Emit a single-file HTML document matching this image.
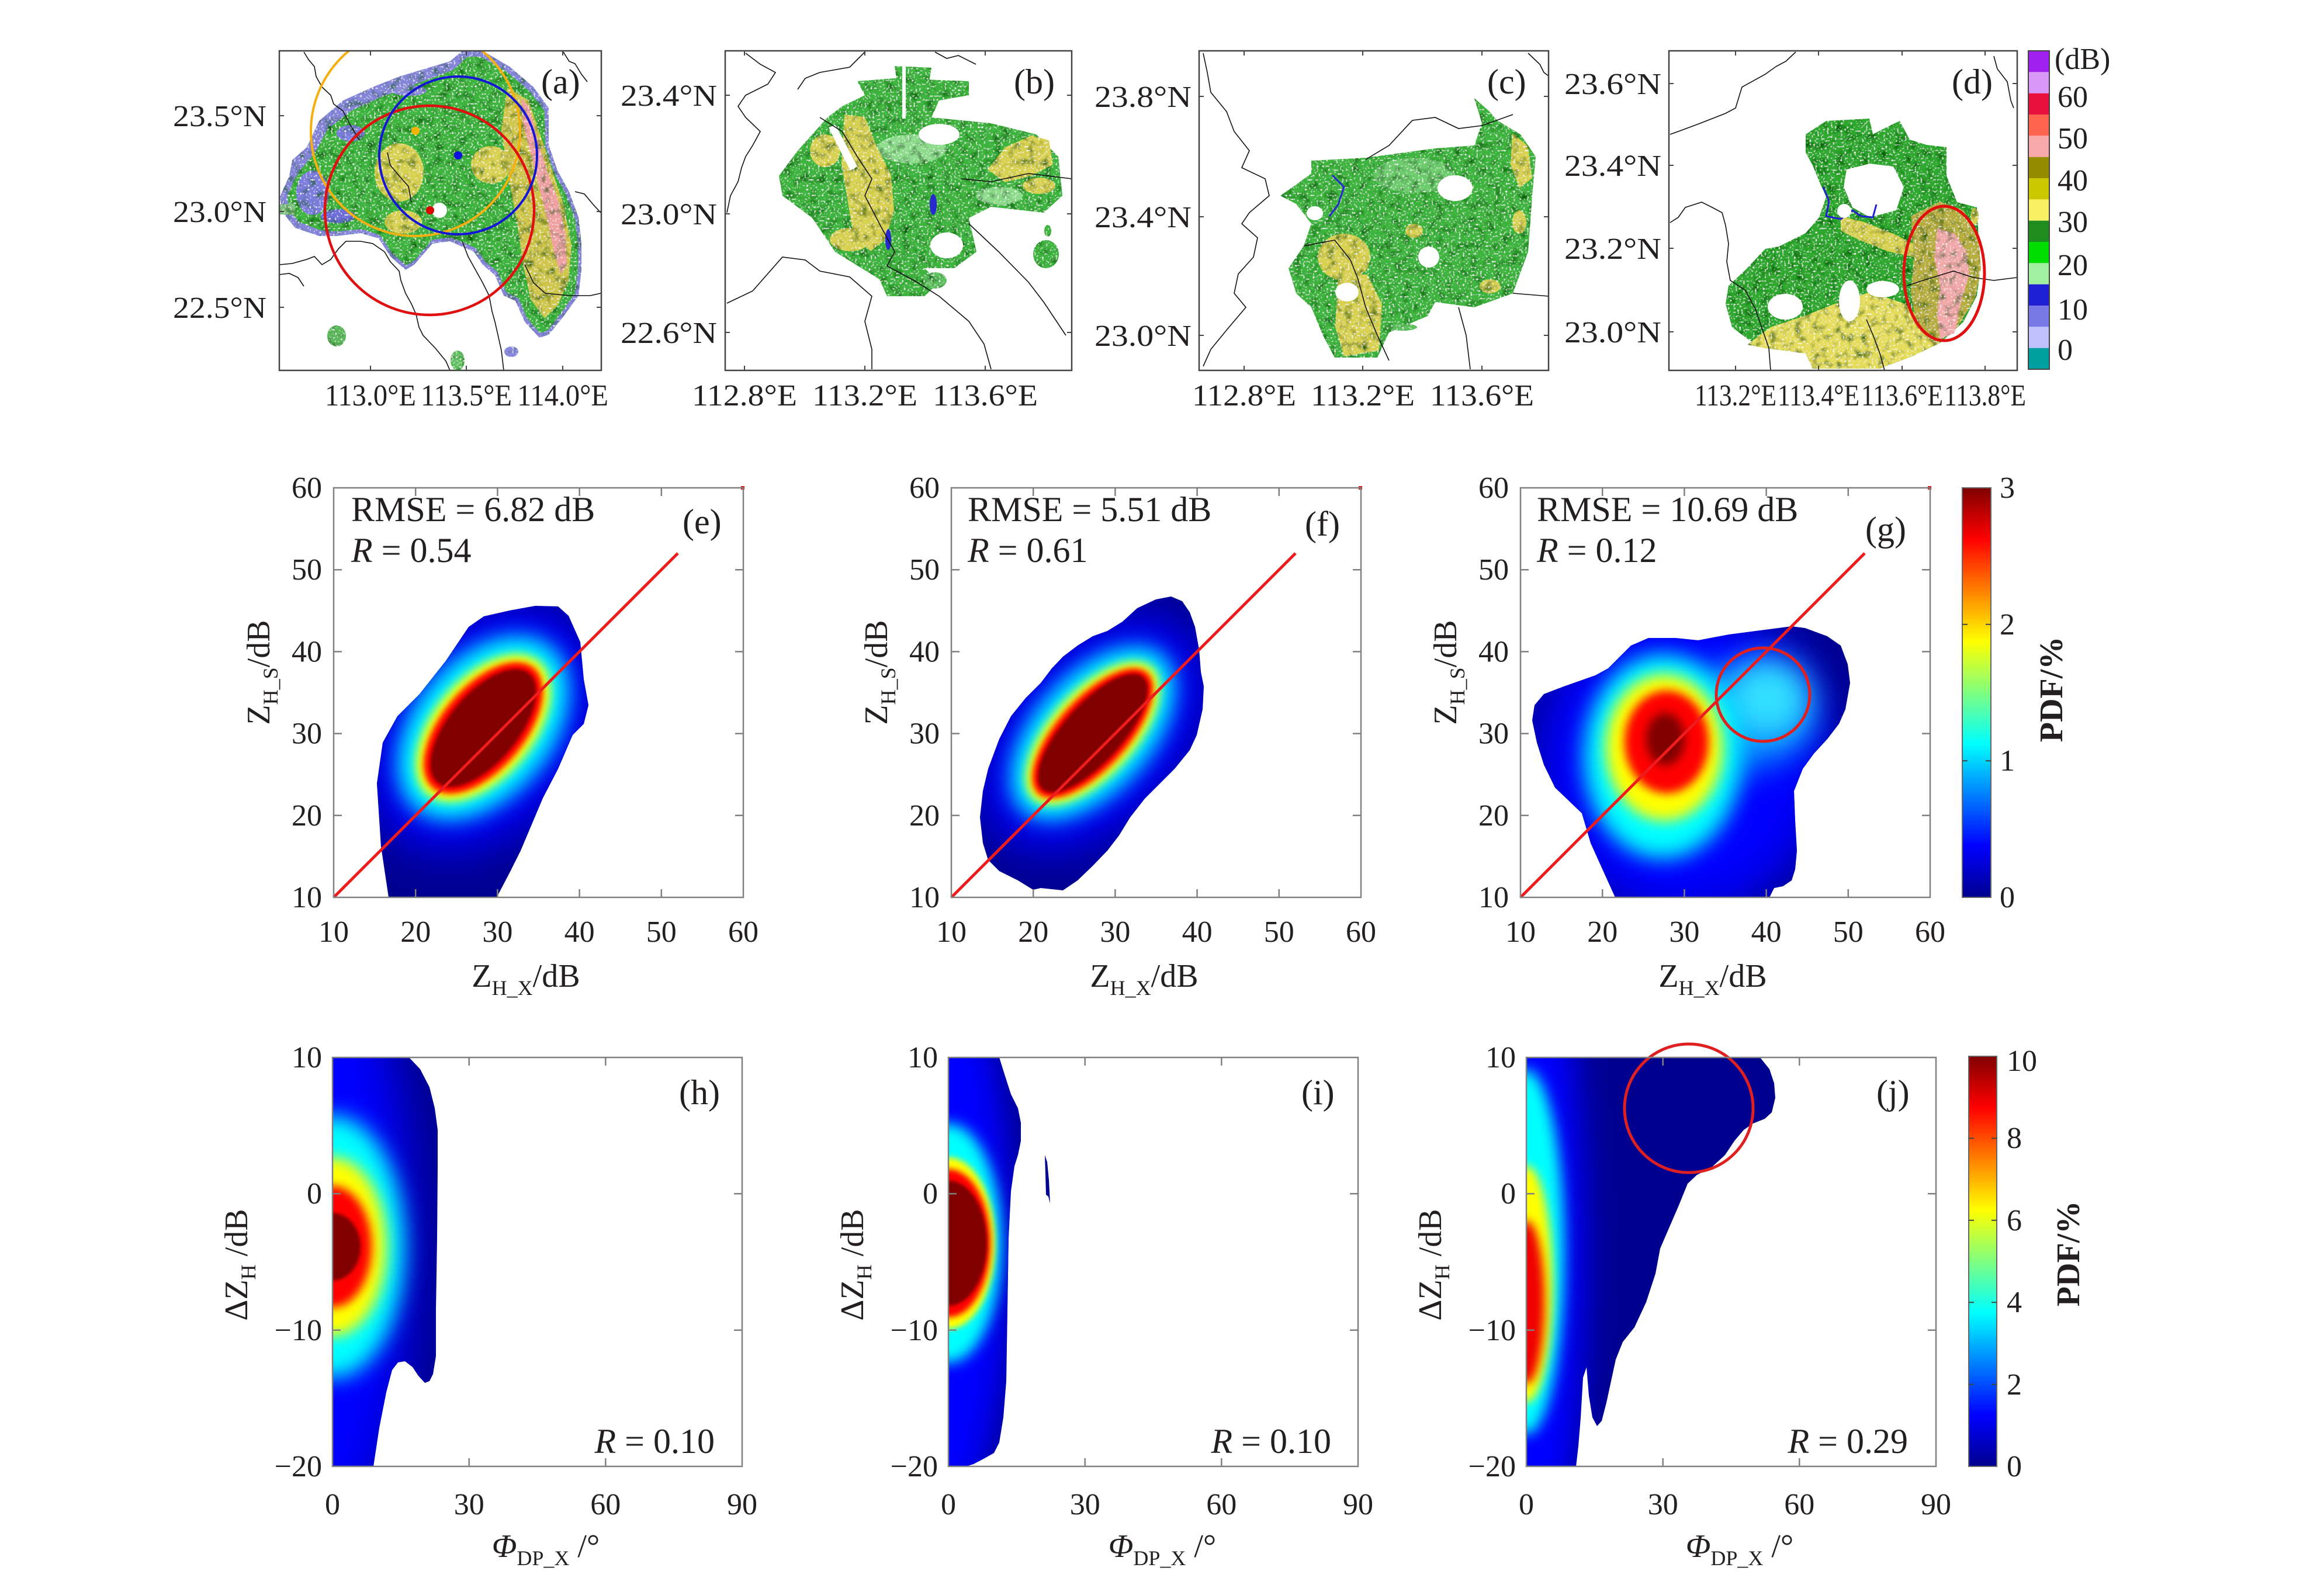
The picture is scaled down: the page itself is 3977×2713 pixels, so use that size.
<!DOCTYPE html>
<html><head><meta charset="utf-8"><style>html,body{margin:0;padding:0;background:#fff}svg{display:block}</style></head>
<body>
<svg xmlns="http://www.w3.org/2000/svg" width="3977" height="2713" viewBox="0 0 3977 2713" font-family="'Liberation Serif', serif" fill="#231f20">
<defs>
<linearGradient id="jet" x1="0" y1="1" x2="0" y2="0">
<stop offset="0" stop-color="#00008F"/><stop offset="0.125" stop-color="#0000FF"/><stop offset="0.375" stop-color="#00FFFF"/><stop offset="0.625" stop-color="#FFFF00"/><stop offset="0.875" stop-color="#FF0000"/><stop offset="1" stop-color="#800000"/>
</linearGradient>
<filter id="b3" x="-50%" y="-50%" width="200%" height="200%"><feGaussianBlur stdDeviation="3"/></filter>
<filter id="b5" x="-50%" y="-50%" width="200%" height="200%"><feGaussianBlur stdDeviation="5"/></filter>
<filter id="b8" x="-50%" y="-50%" width="200%" height="200%"><feGaussianBlur stdDeviation="8"/></filter>
<filter id="b12" x="-50%" y="-50%" width="200%" height="200%"><feGaussianBlur stdDeviation="12"/></filter>
<filter id="b18" x="-50%" y="-50%" width="200%" height="200%"><feGaussianBlur stdDeviation="18"/></filter>
<filter id="b28" x="-50%" y="-50%" width="200%" height="200%"><feGaussianBlur stdDeviation="28"/></filter>
<filter id="b40" x="-50%" y="-50%" width="200%" height="200%"><feGaussianBlur stdDeviation="40"/></filter>
<filter id="spk" x="0" y="0" width="100%" height="100%">
<feTurbulence type="fractalNoise" baseFrequency="0.3" numOctaves="1" seed="7" result="n"/>
<feColorMatrix in="n" type="matrix" values="0 0 0 0 1  0 0 0 0 1  0 0 0 0 1  0 0 0 -4 1.72" result="w"/>
<feComposite in="w" in2="SourceAlpha" operator="in" result="ws"/>
<feTurbulence type="fractalNoise" baseFrequency="0.07" numOctaves="2" seed="3" result="m"/>
<feColorMatrix in="m" type="matrix" values="0 0 0 0 0  0 0 0 0 0.12  0 0 0 0 0  0 0 0 2.5 -1.2" result="d"/>
<feComposite in="d" in2="SourceAlpha" operator="in" result="ds"/>
<feMerge><feMergeNode in="SourceGraphic"/><feMergeNode in="ds"/><feMergeNode in="ws"/></feMerge>
</filter>
<clipPath id="ca"><rect x="478" y="87" width="551" height="547"/></clipPath>
<clipPath id="cb"><rect x="1241" y="87" width="593" height="547"/></clipPath>
<clipPath id="cc"><rect x="2052" y="87" width="598" height="547"/></clipPath>
<clipPath id="cd"><rect x="2856" y="87" width="596" height="547"/></clipPath>
<clipPath id="ce"><polygon points="665,1536 652,1449 645,1341 655,1271 680,1226 718,1188 763,1131 802,1073 828,1055 872,1045 916,1037 955,1038 973,1054 993,1099 999,1163 1007,1207 999,1239 980,1258 955,1316 929,1366 891,1456 872,1494 850,1536"/></clipPath>
<clipPath id="cf"><polygon points="1819,1524 1781,1520 1768,1523 1742,1507 1710,1491 1691,1472 1682,1443 1677,1399 1682,1354 1691,1316 1710,1265 1730,1226 1755,1195 1781,1169 1800,1144 1819,1124 1844,1105 1870,1089 1895,1080 1921,1064 1946,1041 1978,1026 2004,1021 2023,1029 2036,1048 2045,1073 2052,1112 2055,1150 2060,1175 2058,1214 2048,1258 2036,1284 2010,1316 1985,1341 1959,1367 1934,1399 1915,1430 1895,1456 1870,1482 1844,1507"/></clipPath>
<clipPath id="cg"><polygon points="2764,1536 2745,1494 2722,1443 2707,1392 2684,1370 2661,1348 2642,1309 2630,1271 2622,1233 2626,1207 2642,1188 2676,1175 2730,1156 2752,1144 2791,1105 2821,1092 2867,1092 2906,1096 2959,1086 3020,1078 3066,1072 3089,1075 3127,1089 3150,1105 3162,1137 3166,1169 3158,1214 3147,1239 3127,1265 3104,1290 3085,1316 3070,1354 3072,1405 3075,1456 3072,1488 3066,1507 3051,1517 3036,1520 3028,1536"/></clipPath>
<clipPath id="ch"><polygon points="569,1810 700,1810 719,1830 735,1861 744,1897 749,1934 749,1996 748,2119 746,2241 746,2321 741,2352 735,2364 727,2367 716,2355 706,2340 693,2330 681,2332 671,2345 661,2383 649,2444 639,2510 569,2510"/></clipPath>
<clipPath id="ci"><polygon points="1623,1810 1710,1810 1720,1842 1730,1873 1742,1897 1747,1922 1747,1953 1742,1977 1736,1996 1730,2039 1726,2119 1724,2241 1722,2364 1717,2426 1710,2469 1701,2487 1685,2496 1666,2506 1653,2510 1623,2510"/><polygon points="1788,1977 1792,1989 1795,2020 1797,2060 1794,2048 1790,2045 1789,2008"/></clipPath>
<clipPath id="cj"><polygon points="2612,1810 3012,1810 3028,1830 3036,1854 3038,1879 3032,1904 3020,1915 3000,1923 2984,1934 2968,1953 2952,1977 2928,1999 2904,2011 2888,2026 2873,2063 2857,2100 2841,2137 2833,2180 2817,2229 2797,2272 2777,2297 2765,2327 2757,2364 2749,2401 2741,2432 2733,2441 2725,2426 2719,2389 2715,2340 2709,2358 2705,2426 2701,2475 2697,2510 2612,2510"/></clipPath>
</defs>
<rect width="3977" height="2713" fill="#fff"/>

<!-- ============ ROW 1 ============ -->
<!-- (a) -->
<g clip-path="url(#ca)">
 <g filter="url(#spk)">
  <polygon points="500,274 525,252 546,207 587,172 638,149 683,131 770,105 791,87 826,87 872,114 913,149 939,185 939,248 954,292 974,328 990,372 995,417 995,462 990,506 964,542 939,573 923,578 898,551 882,515 862,506 847,471 826,453 811,431 770,413 740,417 709,453 694,462 668,439 648,408 617,399 576,404 546,404 505,390 484,364 479,337 495,301" fill="#8484D8"/>
  <polygon points="515,290 540,260 560,222 600,190 648,168 695,150 775,120 800,97 822,97 866,122 905,155 932,190 933,250 948,295 968,332 984,374 989,418 989,462 984,502 960,536 938,565 924,570 902,545 887,510 866,500 852,466 830,447 815,425 772,406 740,410 710,445 695,454 670,432 650,402 618,392 578,396 548,394 512,380 495,360 492,335 505,305" fill="#3CB43C"/>
  <ellipse cx="535" cy="330" rx="28" ry="38" fill="#7C7CDC"/>
  <ellipse cx="600" cy="228" rx="24" ry="14" fill="#7C7CDC"/>
  <ellipse cx="700" cy="155" rx="30" ry="9" fill="#8C8CDC"/>
  <ellipse cx="578" cy="370" rx="30" ry="12" fill="#6C6CD8"/>
  <ellipse cx="683" cy="295" rx="42" ry="50" fill="#D8D050"/>
  <ellipse cx="840" cy="282" rx="34" ry="32" fill="#D8D050"/>
  <ellipse cx="690" cy="380" rx="32" ry="20" fill="#D8D050"/>
  <polygon points="868,150 905,172 925,232 945,292 965,352 978,420 973,480 955,522 932,545 908,512 895,452 885,382 870,302 858,222" fill="#CFC64A"/>
  <polygon points="892,168 906,184 921,242 936,292 955,342 968,402 970,452 960,470 948,432 938,382 923,322 908,262 895,212" fill="#EFA0A0"/>
  <polygon points="478,350 505,348 505,368 478,367" fill="#7CC07C"/>
  <ellipse cx="576" cy="575" rx="16" ry="18" fill="#5CB85C"/>
  <ellipse cx="783" cy="617" rx="12" ry="17" fill="#60C060"/>
  <ellipse cx="875" cy="602" rx="12" ry="9" fill="#8888DD"/>
 </g>
 <circle cx="752" cy="360" r="13" fill="#fff"/>
 <g fill="none" stroke="#111" stroke-width="1.6">
  <polyline points="479,453 500,451 525,444 538,439 551,453 566,444 579,426 592,413 617,413 638,417 658,431 668,448 683,464 686,480 694,502 704,520 712,538 717,560 724,574 745,596 763,618 770,634"/>
  <polyline points="791,413 801,439 816,466 826,484 837,506 842,533 847,551 852,573 858,600 862,634"/>
  <polyline points="898,453 913,484 933,502 974,506 1010,506 1028,502"/>
  <polyline points="520,89 528,102 538,114 541,131 551,149 566,163 571,178 587,190 600,215 615,240"/>
  <polyline points="964,89 974,105 984,109 995,127 1005,140"/>
  <polyline points="984,328 1000,332 1015,350 1028,364"/>
  <polyline points="663,261 668,283 683,301 699,319 704,346"/>
  <polyline points="478,470 495,468 510,475 520,490"/>
 </g>
 <circle cx="711" cy="225" r="179" fill="none" stroke="#F5B010" stroke-width="4"/>
 <circle cx="735" cy="360" r="179" fill="none" stroke="#E01010" stroke-width="4.5"/>
 <circle cx="784" cy="266" r="135" fill="none" stroke="#1515D5" stroke-width="4"/>
 <circle cx="711" cy="224" r="7" fill="#F5B400"/>
 <circle cx="784" cy="266" r="7" fill="#1010E0"/>
 <circle cx="736" cy="360" r="7" fill="#E00000"/>
</g>
<rect x="478" y="87" width="551" height="547" fill="none" stroke="#444" stroke-width="2.5"/>
<path d="M634 87v8M798 87v8M963 87v8M634 634v-8M798 634v-8M963 634v-8M478 198h8M478 362h8M478 526h8M1029 198h-8M1029 362h-8M1029 526h-8" stroke="#444" stroke-width="2"/>
<text x="926" y="160" font-size="60">(a)</text>
<g font-size="52">
<text x="634" y="694" text-anchor="middle" textLength="156" lengthAdjust="spacingAndGlyphs">113.0°E</text>
<text x="798" y="694" text-anchor="middle" textLength="156" lengthAdjust="spacingAndGlyphs">113.5°E</text>
<text x="963" y="694" text-anchor="middle" textLength="156" lengthAdjust="spacingAndGlyphs">114.0°E</text>
<text x="456" y="216" text-anchor="end" textLength="160" lengthAdjust="spacingAndGlyphs">23.5°N</text>
<text x="456" y="380" text-anchor="end" textLength="160" lengthAdjust="spacingAndGlyphs">23.0°N</text>
<text x="456" y="544" text-anchor="end" textLength="160" lengthAdjust="spacingAndGlyphs">22.5°N</text>
</g>

<!-- (b) -->
<g clip-path="url(#cb)">
 <g filter="url(#spk)">
  <polygon points="1467,139 1531,134 1658,139 1658,163 1607,172 1594,201 1696,211 1773,230 1811,268 1818,335 1786,364 1696,354 1658,373 1671,431 1633,459 1582,459 1607,483 1582,507 1518,507 1505,478 1429,431 1390,373 1339,335 1333,301 1365,258 1390,230 1416,201 1441,182 1480,163" fill="#3CB43C"/>
  <polygon points="1531,113 1594,116 1590,140 1550,145 1535,140" fill="#3CB43C"/>
  <ellipse cx="1560" cy="255" rx="60" ry="25" fill="#8CDC8C"/>
  <ellipse cx="1710" cy="335" rx="40" ry="15" fill="#8CDC8C"/>
  <ellipse cx="1412" cy="258" rx="26" ry="28" fill="#D8D050"/>
  <polygon points="1445,196 1480,200 1500,250 1525,300 1530,360 1515,410 1490,430 1460,400 1450,340 1440,280" fill="#D8D050"/>
  <polygon points="1690,290 1720,252 1765,232 1795,240 1802,282 1762,302 1720,312" fill="#D8D050"/>
  <ellipse cx="1455" cy="410" rx="35" ry="20" fill="#D8D050"/>
  <ellipse cx="1778" cy="318" rx="28" ry="14" fill="#D8D050"/>
  <ellipse cx="1790" cy="435" rx="22" ry="24" fill="#3CB43C"/>
  <ellipse cx="1793" cy="395" rx="6" ry="10" fill="#3CB43C"/>
  <ellipse cx="1600" cy="480" rx="20" ry="14" fill="#5CC05C"/>
 </g>
 <rect x="1544" y="113" width="6" height="90" fill="#fff"/>
 <ellipse cx="1607" cy="230" rx="35" ry="18" fill="#fff"/>
 <polygon points="1418,218 1430,214 1467,285 1455,292" fill="#fff"/>
 <ellipse cx="1620" cy="420" rx="28" ry="22" fill="#fff"/>
 <ellipse cx="1597" cy="350" rx="6" ry="18" fill="#2828D0"/>
 <ellipse cx="1520" cy="410" rx="5" ry="18" fill="#2828D0"/>
 <g fill="none" stroke="#111" stroke-width="1.6">
  <polyline points="1276,91 1301,110 1327,124 1314,144 1276,163 1263,182 1276,201 1301,225 1288,249 1276,268 1269,287 1263,311 1250,335 1244,364"/>
  <polyline points="1480,89 1454,115 1403,124 1378,134 1365,153"/>
  <polyline points="1403,201 1441,225 1467,268 1492,306 1480,335 1505,383 1531,431 1518,455 1569,483 1607,507 1658,550 1684,589 1696,632"/>
  <polyline points="1244,519 1288,498 1339,440 1378,445 1403,464 1454,474 1492,507 1480,550 1492,598 1492,632"/>
  <polyline points="1645,306 1696,311 1760,297 1834,306"/>
  <polyline points="1658,383 1709,431 1760,483 1786,517 1824,574"/>
  <polyline points="1600,89 1620,100 1640,95 1670,110"/>
 </g>
</g>
<rect x="1241" y="87" width="593" height="547" fill="none" stroke="#444" stroke-width="2.5"/>
<path d="M1274 87v8M1480 87v8M1686 87v8M1274 634v-8M1480 634v-8M1686 634v-8M1241 163h8M1241 366h8M1241 569h8M1834 163h-8M1834 366h-8M1834 569h-8" stroke="#444" stroke-width="2"/>
<text x="1735" y="160" font-size="60">(b)</text>
<g font-size="52">
<text x="1274" y="694" text-anchor="middle" textLength="180" lengthAdjust="spacingAndGlyphs">112.8°E</text>
<text x="1480" y="694" text-anchor="middle" textLength="180" lengthAdjust="spacingAndGlyphs">113.2°E</text>
<text x="1686" y="694" text-anchor="middle" textLength="180" lengthAdjust="spacingAndGlyphs">113.6°E</text>
<text x="1227" y="181" text-anchor="end" textLength="165" lengthAdjust="spacingAndGlyphs">23.4°N</text>
<text x="1227" y="384" text-anchor="end" textLength="165" lengthAdjust="spacingAndGlyphs">23.0°N</text>
<text x="1227" y="587" text-anchor="end" textLength="165" lengthAdjust="spacingAndGlyphs">22.6°N</text>
</g>

<!-- (c) -->
<g clip-path="url(#cc)">
 <g filter="url(#spk)">
  <polygon points="2244,275 2337,270 2456,254 2523,249 2536,211 2523,168 2549,191 2562,206 2602,230 2628,268 2622,335 2615,431 2589,502 2523,526 2456,517 2443,541 2377,569 2357,612 2284,612 2264,574 2244,526 2218,502 2205,459 2231,421 2244,383 2218,349 2191,335 2218,316 2244,297" fill="#3CB43C"/>
  <ellipse cx="2420" cy="300" rx="70" ry="30" fill="#6CCC6C"/>
  <polygon points="2588,228 2615,250 2622,305 2600,322 2585,282" fill="#D8D050"/>
  <ellipse cx="2300" cy="440" rx="45" ry="40" fill="#D8D050"/>
  <polygon points="2290,470 2340,470 2365,520 2360,600 2300,610 2285,560" fill="#D8D050"/>
  <ellipse cx="2550" cy="490" rx="18" ry="12" fill="#D8D050"/>
  <ellipse cx="2420" cy="395" rx="15" ry="12" fill="#D8D050"/>
  <ellipse cx="2600" cy="380" rx="12" ry="20" fill="#D8D050"/>
  <ellipse cx="2400" cy="560" rx="25" ry="6" fill="#5CC05C"/>
 </g>
 <ellipse cx="2490" cy="322" rx="30" ry="22" fill="#fff"/>
 <ellipse cx="2305" cy="500" rx="20" ry="16" fill="#fff"/>
 <ellipse cx="2445" cy="440" rx="18" ry="18" fill="#fff"/>
 <ellipse cx="2250" cy="365" rx="14" ry="12" fill="#fff"/>
 <polyline points="2280,300 2300,320 2290,350 2275,370" fill="none" stroke="#2828D0" stroke-width="3"/>
 <g fill="none" stroke="#111" stroke-width="1.6">
  <polyline points="2059,91 2066,124 2072,158 2099,191 2112,225 2138,258 2125,287 2165,306 2172,335 2138,364 2125,383 2152,407 2145,440 2119,469 2112,502 2132,526 2099,565 2072,598 2059,627"/>
  <polyline points="2337,273 2377,249 2417,206 2456,201 2496,220 2536,215 2589,196"/>
  <polyline points="2615,91 2635,110 2642,124 2650,130"/>
  <polyline points="2231,421 2284,411 2311,445 2324,478 2337,526 2357,574 2377,617"/>
  <polyline points="2496,526 2509,574 2516,632"/>
  <polyline points="2589,502 2650,507"/>
 </g>
</g>
<rect x="2052" y="87" width="598" height="547" fill="none" stroke="#444" stroke-width="2.5"/>
<path d="M2129 87v8M2332 87v8M2536 87v8M2129 634v-8M2332 634v-8M2536 634v-8M2052 165h8M2052 371h8M2052 574h8M2650 165h-8M2650 371h-8M2650 574h-8" stroke="#444" stroke-width="2"/>
<text x="2545" y="160" font-size="60">(c)</text>
<g font-size="52">
<text x="2129" y="694" text-anchor="middle" textLength="178" lengthAdjust="spacingAndGlyphs">112.8°E</text>
<text x="2332" y="694" text-anchor="middle" textLength="178" lengthAdjust="spacingAndGlyphs">113.2°E</text>
<text x="2536" y="694" text-anchor="middle" textLength="178" lengthAdjust="spacingAndGlyphs">113.6°E</text>
<text x="2039" y="183" text-anchor="end" textLength="166" lengthAdjust="spacingAndGlyphs">23.8°N</text>
<text x="2039" y="389" text-anchor="end" textLength="166" lengthAdjust="spacingAndGlyphs">23.4°N</text>
<text x="2039" y="592" text-anchor="end" textLength="166" lengthAdjust="spacingAndGlyphs">23.0°N</text>
</g>

<!-- (d) -->
<g clip-path="url(#cd)">
 <g filter="url(#spk)">
  <polygon points="3090,230 3125,207 3199,203 3205,230 3222,221 3251,207 3268,239 3297,248 3331,252 3331,301 3349,346 3383,355 3389,462 3383,506 3360,551 3320,587 3274,609 3217,631 3102,631 3090,605 3021,596 2993,582 2964,560 2953,520 2958,489 2987,462 3021,426 3044,422 3090,399 3113,372 3125,337 3113,310 3102,283 3090,261" fill="#2EA82E"/>
  <polygon points="2990,590 3030,560 3090,540 3140,520 3200,500 3260,520 3300,560 3320,587 3274,609 3217,631 3102,631 3090,605 3021,596" fill="#E4DC5A"/>
  <polygon points="3150,370 3190,380 3240,400 3280,420 3275,440 3230,430 3180,410 3150,395" fill="#D8D050"/>
  <polygon points="3270,370 3320,345 3360,360 3385,400 3390,460 3380,510 3350,560 3310,590 3280,560 3270,500 3275,440" fill="#B8AE40"/>
  <polygon points="3315,390 3345,400 3365,430 3370,470 3355,520 3345,570 3320,580 3315,540 3320,490 3310,440" fill="#F0A8A8"/>
  <ellipse cx="3379" cy="370" rx="7" ry="14" fill="#D8D050"/>
 </g>
 <polygon points="3160,290 3200,280 3240,285 3258,320 3245,360 3200,372 3170,355 3155,320" fill="#fff"/>
 <polyline points="3120,320 3130,345 3125,370 3150,375 3170,360 3185,370 3205,372 3211,350" fill="none" stroke="#2020D0" stroke-width="3"/>
 <circle cx="3156" cy="361" r="12" fill="#fff"/>
 <ellipse cx="3165" cy="515" rx="18" ry="35" fill="#fff"/>
 <ellipse cx="3222" cy="495" rx="28" ry="14" fill="#fff"/>
 <ellipse cx="3055" cy="525" rx="30" ry="22" fill="#fff"/>
 <g fill="none" stroke="#111" stroke-width="1.6">
  <polyline points="2858,230 2872,225 2907,212 2930,203 2953,194 2970,185 2981,149 3021,127 3039,114 3056,105 3073,89"/>
  <polyline points="2858,381 2872,372 2884,355 2912,346 2930,355 2947,364 2953,386 2958,417 2955,448 2961,480 2987,497 3004,529 3016,564 3027,596 3030,634"/>
  <polyline points="3194,547 3205,573 3217,605 3225,634"/>
  <polyline points="3263,489 3291,480 3320,471 3343,464 3377,475 3412,480 3435,477 3452,475"/>
  <polyline points="3412,96 3418,118 3435,140 3441,172 3446,185"/>
 </g>
 <ellipse cx="3327" cy="468" rx="69" ry="115" fill="none" stroke="#E01010" stroke-width="5"/>
</g>
<rect x="2856" y="87" width="596" height="547" fill="none" stroke="#444" stroke-width="2.5"/>
<path d="M2970 87v8M3112 87v8M3255 87v8M3397 87v8M2970 634v-8M3112 634v-8M3255 634v-8M3397 634v-8M2856 143h8M2856 283h8M2856 425h8M2856 568h8M3452 143h-8M3452 283h-8M3452 425h-8M3452 568h-8" stroke="#444" stroke-width="2"/>
<text x="3340" y="160" font-size="60">(d)</text>
<g font-size="52">
<text x="2970" y="694" text-anchor="middle" textLength="140" lengthAdjust="spacingAndGlyphs">113.2°E</text>
<text x="3112" y="694" text-anchor="middle" textLength="140" lengthAdjust="spacingAndGlyphs">113.4°E</text>
<text x="3255" y="694" text-anchor="middle" textLength="140" lengthAdjust="spacingAndGlyphs">113.6°E</text>
<text x="3397" y="694" text-anchor="middle" textLength="140" lengthAdjust="spacingAndGlyphs">113.8°E</text>
<text x="2843" y="161" text-anchor="end" textLength="166" lengthAdjust="spacingAndGlyphs">23.6°N</text>
<text x="2843" y="301" text-anchor="end" textLength="166" lengthAdjust="spacingAndGlyphs">23.4°N</text>
<text x="2843" y="443" text-anchor="end" textLength="166" lengthAdjust="spacingAndGlyphs">23.2°N</text>
<text x="2843" y="586" text-anchor="end" textLength="166" lengthAdjust="spacingAndGlyphs">23.0°N</text>
</g>

<!-- colorbar row 1 -->
<g>
<rect x="3471" y="87.0" width="36" height="36.4" fill="#A020F0"/>
<rect x="3471" y="123.3" width="36" height="36.4" fill="#D898F8"/>
<rect x="3471" y="159.7" width="36" height="36.4" fill="#E8103C"/>
<rect x="3471" y="196.0" width="36" height="36.4" fill="#FF6450"/>
<rect x="3471" y="232.3" width="36" height="36.4" fill="#F8AAAA"/>
<rect x="3471" y="268.7" width="36" height="36.4" fill="#968C00"/>
<rect x="3471" y="305.0" width="36" height="36.4" fill="#CCC800"/>
<rect x="3471" y="341.3" width="36" height="36.4" fill="#FAF064"/>
<rect x="3471" y="377.7" width="36" height="36.4" fill="#1E8C1E"/>
<rect x="3471" y="414.0" width="36" height="36.4" fill="#00DC00"/>
<rect x="3471" y="450.3" width="36" height="36.4" fill="#A0F0A0"/>
<rect x="3471" y="486.7" width="36" height="36.4" fill="#1E1ED2"/>
<rect x="3471" y="523.0" width="36" height="36.4" fill="#7878E6"/>
<rect x="3471" y="559.3" width="36" height="36.4" fill="#C0C0FA"/>
<rect x="3471" y="595.7" width="36" height="36.3" fill="#00A0A0"/>
<rect x="3471" y="87" width="36" height="545" fill="none" stroke="#444" stroke-width="2"/>
</g>
<g font-size="52">
<text x="3516" y="118">(dB)</text>
<text x="3521" y="183">60</text>
<text x="3521" y="254">50</text>
<text x="3521" y="326">40</text>
<text x="3521" y="397">30</text>
<text x="3521" y="471">20</text>
<text x="3521" y="547">10</text>
<text x="3521" y="616">0</text>
</g>

<!-- ============ ROW 2 ============ -->
<!-- (e) -->
<g clip-path="url(#ce)">
 <rect x="571" y="835" width="701" height="701" fill="#00008F"/>
 <g transform="translate(827,1246) rotate(-50)">
  <ellipse rx="235" ry="172" fill="#0000FF" filter="url(#b40)"/>
  <ellipse rx="180" ry="117" fill="#00FFFF" filter="url(#b18)"/>
  <ellipse rx="148" ry="85" fill="#FFFF00" filter="url(#b8)"/>
  <ellipse rx="134" ry="71" fill="#FF0000" filter="url(#b5)"/>
  <ellipse rx="122" ry="59" fill="#800000" filter="url(#b3)"/>
 </g>
</g>
<line x1="571" y1="1536" x2="1160" y2="947" stroke="#EE1C1C" stroke-width="5"/>
<rect x="1268" y="832" width="6" height="6" fill="#E01010"/>
<rect x="571" y="835" width="701" height="701" fill="none" stroke="#808080" stroke-width="2.5"/>
<path d="M711.2 1536v-14M851.4 1536v-14M991.6 1536v-14M1131.8 1536v-14M711.2 835v14M851.4 835v14M991.6 835v14M1131.8 835v14M571 1395.8h14M571 1255.6h14M571 1115.4h14M571 975.2h14M1272 1395.8h-14M1272 1255.6h-14M1272 1115.4h-14M1272 975.2h-14" stroke="#808080" stroke-width="2.5"/>
<g font-size="52">
<text x="571" y="1612" text-anchor="middle">10</text><text x="711.2" y="1612" text-anchor="middle">20</text><text x="851.4" y="1612" text-anchor="middle">30</text><text x="991.6" y="1612" text-anchor="middle">40</text><text x="1131.8" y="1612" text-anchor="middle">50</text><text x="1272" y="1612" text-anchor="middle">60</text>
<text x="551" y="1553" text-anchor="end">10</text><text x="551" y="1412.8" text-anchor="end">20</text><text x="551" y="1272.6" text-anchor="end">30</text><text x="551" y="1132.4" text-anchor="end">40</text><text x="551" y="992.2" text-anchor="end">50</text><text x="551" y="852" text-anchor="end">60</text>
</g>
<g font-size="60">
<text x="601" y="892">RMSE = 6.82 dB</text>
<text x="601" y="962"><tspan font-style="italic">R</tspan> = 0.54</text>
<text x="1168" y="913">(e)</text>
</g>
<text x="900" y="1689" font-size="56" text-anchor="middle">Z<tspan font-size="36" dy="14">H_X</tspan><tspan dy="-14">/dB</tspan></text>
<text transform="translate(461,1151) rotate(-90)" font-size="56" text-anchor="middle">Z<tspan font-size="36" dy="14">H_S</tspan><tspan dy="-14">/dB</tspan></text>

<!-- (f) -->
<g clip-path="url(#cf)">
 <rect x="1628" y="835" width="701" height="701" fill="#00008F"/>
 <g transform="translate(1870,1255) rotate(-48)">
  <ellipse rx="232" ry="153" fill="#0000FF" filter="url(#b40)"/>
  <ellipse rx="178" ry="99" fill="#00FFFF" filter="url(#b18)"/>
  <ellipse rx="151" ry="72" fill="#FFFF00" filter="url(#b8)"/>
  <ellipse rx="139" ry="60" fill="#FF0000" filter="url(#b5)"/>
  <ellipse rx="129" ry="50" fill="#800000" filter="url(#b3)"/>
 </g>
</g>
<line x1="1628" y1="1536" x2="2217" y2="947" stroke="#EE1C1C" stroke-width="5"/>
<rect x="2325" y="832" width="6" height="6" fill="#E01010"/>
<rect x="1628" y="835" width="701" height="701" fill="none" stroke="#808080" stroke-width="2.5"/>
<path d="M1768.2 1536v-14M1908.4 1536v-14M2048.6 1536v-14M2188.8 1536v-14M1768.2 835v14M1908.4 835v14M2048.6 835v14M2188.8 835v14M1628 1395.8h14M1628 1255.6h14M1628 1115.4h14M1628 975.2h14M2329 1395.8h-14M2329 1255.6h-14M2329 1115.4h-14M2329 975.2h-14" stroke="#808080" stroke-width="2.5"/>
<g font-size="52">
<text x="1628" y="1612" text-anchor="middle">10</text><text x="1768.2" y="1612" text-anchor="middle">20</text><text x="1908.4" y="1612" text-anchor="middle">30</text><text x="2048.6" y="1612" text-anchor="middle">40</text><text x="2188.8" y="1612" text-anchor="middle">50</text><text x="2329" y="1612" text-anchor="middle">60</text>
<text x="1608" y="1553" text-anchor="end">10</text><text x="1608" y="1412.8" text-anchor="end">20</text><text x="1608" y="1272.6" text-anchor="end">30</text><text x="1608" y="1132.4" text-anchor="end">40</text><text x="1608" y="992.2" text-anchor="end">50</text><text x="1608" y="852" text-anchor="end">60</text>
</g>
<g font-size="60">
<text x="1656" y="892">RMSE = 5.51 dB</text>
<text x="1656" y="962"><tspan font-style="italic">R</tspan> = 0.61</text>
<text x="2233" y="917">(f)</text>
</g>
<text x="1958" y="1689" font-size="56" text-anchor="middle">Z<tspan font-size="36" dy="14">H_X</tspan><tspan dy="-14">/dB</tspan></text>
<text transform="translate(1518,1151) rotate(-90)" font-size="56" text-anchor="middle">Z<tspan font-size="36" dy="14">H_S</tspan><tspan dy="-14">/dB</tspan></text>

<!-- (g) -->
<g clip-path="url(#cg)">
 <rect x="2602" y="835" width="701" height="701" fill="#00008F"/>
 <ellipse cx="2880" cy="1300" rx="250" ry="270" fill="#0000FF" filter="url(#b40)"/>
 <ellipse cx="2950" cy="1235" rx="150" ry="90" fill="#0090FF" opacity="0.85" filter="url(#b28)"/>
 <ellipse cx="3025" cy="1195" rx="75" ry="70" fill="#30E0FF" filter="url(#b28)"/>
 <ellipse cx="2845" cy="1295" rx="135" ry="175" fill="#00FFFF" filter="url(#b18)"/>
 <ellipse cx="2848" cy="1280" rx="100" ry="125" fill="#FFFF00" filter="url(#b12)"/>
 <ellipse cx="2852" cy="1270" rx="72" ry="88" fill="#FF0000" filter="url(#b8)"/>
 <ellipse cx="2850" cy="1265" rx="33" ry="45" fill="#800000" filter="url(#b8)"/>
</g>
<line x1="2602" y1="1536" x2="3191" y2="947" stroke="#EE1C1C" stroke-width="5"/>
<rect x="3299" y="832" width="6" height="6" fill="#E01010"/>
<circle cx="3017" cy="1189" r="80" fill="none" stroke="#E02020" stroke-width="5"/>
<rect x="2602" y="835" width="701" height="701" fill="none" stroke="#808080" stroke-width="2.5"/>
<path d="M2742.2 1536v-14M2882.4 1536v-14M3022.6 1536v-14M3162.8 1536v-14M2742.2 835v14M2882.4 835v14M3022.6 835v14M3162.8 835v14M2602 1395.8h14M2602 1255.6h14M2602 1115.4h14M2602 975.2h14M3303 1395.8h-14M3303 1255.6h-14M3303 1115.4h-14M3303 975.2h-14" stroke="#808080" stroke-width="2.5"/>
<g font-size="52">
<text x="2602" y="1612" text-anchor="middle">10</text><text x="2742.2" y="1612" text-anchor="middle">20</text><text x="2882.4" y="1612" text-anchor="middle">30</text><text x="3022.6" y="1612" text-anchor="middle">40</text><text x="3162.8" y="1612" text-anchor="middle">50</text><text x="3303" y="1612" text-anchor="middle">60</text>
<text x="2582" y="1553" text-anchor="end">10</text><text x="2582" y="1412.8" text-anchor="end">20</text><text x="2582" y="1272.6" text-anchor="end">30</text><text x="2582" y="1132.4" text-anchor="end">40</text><text x="2582" y="992.2" text-anchor="end">50</text><text x="2582" y="852" text-anchor="end">60</text>
</g>
<g font-size="60">
<text x="2630" y="892">RMSE = 10.69 dB</text>
<text x="2630" y="962"><tspan font-style="italic">R</tspan> = 0.12</text>
<text x="3192" y="926">(g)</text>
</g>
<text x="2931" y="1689" font-size="56" text-anchor="middle">Z<tspan font-size="36" dy="14">H_X</tspan><tspan dy="-14">/dB</tspan></text>
<text transform="translate(2492,1151) rotate(-90)" font-size="56" text-anchor="middle">Z<tspan font-size="36" dy="14">H_S</tspan><tspan dy="-14">/dB</tspan></text>

<!-- colorbar row 2 -->
<rect x="3358" y="835" width="49" height="701" fill="url(#jet)"/>
<rect x="3358" y="835" width="49" height="701" fill="none" stroke="#666" stroke-width="2"/>
<path d="M3407 1302.3h-9M3407 1068.7h-9M3358 1302.3h9M3358 1068.7h9" stroke="#444" stroke-width="2"/>
<g font-size="52">
<text x="3422" y="1553">0</text><text x="3422" y="1319">1</text><text x="3422" y="1086">2</text><text x="3422" y="852">3</text>
</g>
<text transform="translate(3529,1180) rotate(-90)" font-size="56" font-weight="bold" text-anchor="middle">PDF/%</text>

<!-- ============ ROW 3 ============ -->
<!-- (h) -->
<g clip-path="url(#ch)">
 <rect x="569" y="1810" width="701" height="700" fill="#00008F"/>
 <ellipse cx="569" cy="2134" rx="135" ry="480" fill="#0000FF" filter="url(#b40)"/>
 <ellipse cx="569" cy="2134" rx="124" ry="225" fill="#00FFFF" filter="url(#b18)"/>
 <ellipse cx="569" cy="2134" rx="92" ry="153" fill="#FFFF00" filter="url(#b12)"/>
 <ellipse cx="569" cy="2134" rx="67" ry="104" fill="#FF0000" filter="url(#b8)"/>
 <ellipse cx="569" cy="2134" rx="48" ry="58" fill="#800000" filter="url(#b3)"/>
</g>
<rect x="569" y="1810" width="701" height="700" fill="none" stroke="#808080" stroke-width="2.5"/>
<path d="M802.7 2510v-14M1036.3 2510v-14M802.7 1810v14M1036.3 1810v14M569 2043.3h14M569 2276.7h14M1270 2043.3h-14M1270 2276.7h-14" stroke="#808080" stroke-width="2.5"/>
<g font-size="52">
<text x="569" y="2592" text-anchor="middle">0</text><text x="802.7" y="2592" text-anchor="middle">30</text><text x="1036.3" y="2592" text-anchor="middle">60</text><text x="1270" y="2592" text-anchor="middle">90</text>
<text x="551" y="1827" text-anchor="end">10</text><text x="551" y="2060" text-anchor="end">0</text><text x="551" y="2294" text-anchor="end">−10</text><text x="551" y="2527" text-anchor="end">−20</text>
</g>
<g font-size="60">
<text x="1223" y="2487" text-anchor="end"><tspan font-style="italic">R</tspan> = 0.10</text>
<text x="1162" y="1890">(h)</text>
</g>
<text x="934" y="2665" font-size="56" text-anchor="middle"><tspan font-style="italic">Φ</tspan><tspan font-size="36" dy="14">DP_X</tspan><tspan dy="-14"> /°</tspan></text>
<text transform="translate(423,2165) rotate(-90)" font-size="56" text-anchor="middle">ΔZ<tspan font-size="36" dy="14">H</tspan><tspan dy="-14"> /dB</tspan></text>

<!-- (i) -->
<g clip-path="url(#ci)">
 <rect x="1623" y="1810" width="701" height="700" fill="#00008F"/>
 <ellipse cx="1623" cy="2128" rx="108" ry="460" fill="#0000FF" filter="url(#b28)"/>
 <ellipse cx="1623" cy="2128" rx="91" ry="205" fill="#00FFFF" filter="url(#b12)"/>
 <ellipse cx="1623" cy="2128" rx="80" ry="147" fill="#FFFF00" filter="url(#b5)"/>
 <ellipse cx="1623" cy="2128" rx="72" ry="127" fill="#FF0000" filter="url(#b5)"/>
 <ellipse cx="1623" cy="2128" rx="66" ry="107" fill="#800000" filter="url(#b3)"/>
</g>
<rect x="1623" y="1810" width="701" height="700" fill="none" stroke="#808080" stroke-width="2.5"/>
<path d="M1856.7 2510v-14M2090.3 2510v-14M1856.7 1810v14M2090.3 1810v14M1623 2043.3h14M1623 2276.7h14M2324 2043.3h-14M2324 2276.7h-14" stroke="#808080" stroke-width="2.5"/>
<g font-size="52">
<text x="1623" y="2592" text-anchor="middle">0</text><text x="1856.7" y="2592" text-anchor="middle">30</text><text x="2090.3" y="2592" text-anchor="middle">60</text><text x="2324" y="2592" text-anchor="middle">90</text>
<text x="1605" y="1827" text-anchor="end">10</text><text x="1605" y="2060" text-anchor="end">0</text><text x="1605" y="2294" text-anchor="end">−10</text><text x="1605" y="2527" text-anchor="end">−20</text>
</g>
<g font-size="60">
<text x="2278" y="2487" text-anchor="end"><tspan font-style="italic">R</tspan> = 0.10</text>
<text x="2227" y="1890">(i)</text>
</g>
<text x="1989" y="2665" font-size="56" text-anchor="middle"><tspan font-style="italic">Φ</tspan><tspan font-size="36" dy="14">DP_X</tspan><tspan dy="-14"> /°</tspan></text>
<text transform="translate(1477,2165) rotate(-90)" font-size="56" text-anchor="middle">ΔZ<tspan font-size="36" dy="14">H</tspan><tspan dy="-14"> /dB</tspan></text>

<!-- (j) -->
<g clip-path="url(#cj)">
 <rect x="2612" y="1810" width="701" height="700" fill="#00008F"/>
 <ellipse cx="2612" cy="2160" rx="100" ry="600" fill="#0000FF" filter="url(#b28)"/>
 <ellipse cx="2612" cy="2143" rx="65" ry="313" fill="#00FFFF" filter="url(#b12)"/>
 <ellipse cx="2612" cy="2198" rx="45" ry="203" fill="#FFFF00" filter="url(#b8)"/>
 <ellipse cx="2612" cy="2229" rx="31" ry="140" fill="#F00000" filter="url(#b8)"/>
</g>
<circle cx="2890" cy="1897" r="110" fill="none" stroke="#E02020" stroke-width="5"/>
<rect x="2612" y="1810" width="701" height="700" fill="none" stroke="#808080" stroke-width="2.5"/>
<path d="M2845.7 2510v-14M3079.3 2510v-14M2845.7 1810v14M3079.3 1810v14M2612 2043.3h14M2612 2276.7h14M3313 2043.3h-14M3313 2276.7h-14" stroke="#808080" stroke-width="2.5"/>
<g font-size="52">
<text x="2612" y="2592" text-anchor="middle">0</text><text x="2845.7" y="2592" text-anchor="middle">30</text><text x="3079.3" y="2592" text-anchor="middle">60</text><text x="3313" y="2592" text-anchor="middle">90</text>
<text x="2594" y="1827" text-anchor="end">10</text><text x="2594" y="2060" text-anchor="end">0</text><text x="2594" y="2294" text-anchor="end">−10</text><text x="2594" y="2527" text-anchor="end">−20</text>
</g>
<g font-size="60">
<text x="3265" y="2487" text-anchor="end"><tspan font-style="italic">R</tspan> = 0.29</text>
<text x="3211" y="1890">(j)</text>
</g>
<text x="2977" y="2665" font-size="56" text-anchor="middle"><tspan font-style="italic">Φ</tspan><tspan font-size="36" dy="14">DP_X</tspan><tspan dy="-14"> /°</tspan></text>
<text transform="translate(2466,2165) rotate(-90)" font-size="56" text-anchor="middle">ΔZ<tspan font-size="36" dy="14">H</tspan><tspan dy="-14"> /dB</tspan></text>

<!-- colorbar row 3 -->
<rect x="3369" y="1808" width="48" height="702" fill="url(#jet)"/>
<rect x="3369" y="1808" width="48" height="702" fill="none" stroke="#666" stroke-width="2"/>
<path d="M3417 2369.6h-9M3417 2229.2h-9M3417 2088.8h-9M3417 1948.4h-9M3369 2369.6h9M3369 2229.2h9M3369 2088.8h9M3369 1948.4h9" stroke="#444" stroke-width="2"/>
<g font-size="52">
<text x="3434" y="2527">0</text><text x="3434" y="2387">2</text><text x="3434" y="2246">4</text><text x="3434" y="2106">6</text><text x="3434" y="1965">8</text><text x="3434" y="1833">10</text>
</g>
<text transform="translate(3558,2146) rotate(-90)" font-size="56" font-weight="bold" text-anchor="middle">PDF/%</text>
</svg>
</body></html>
